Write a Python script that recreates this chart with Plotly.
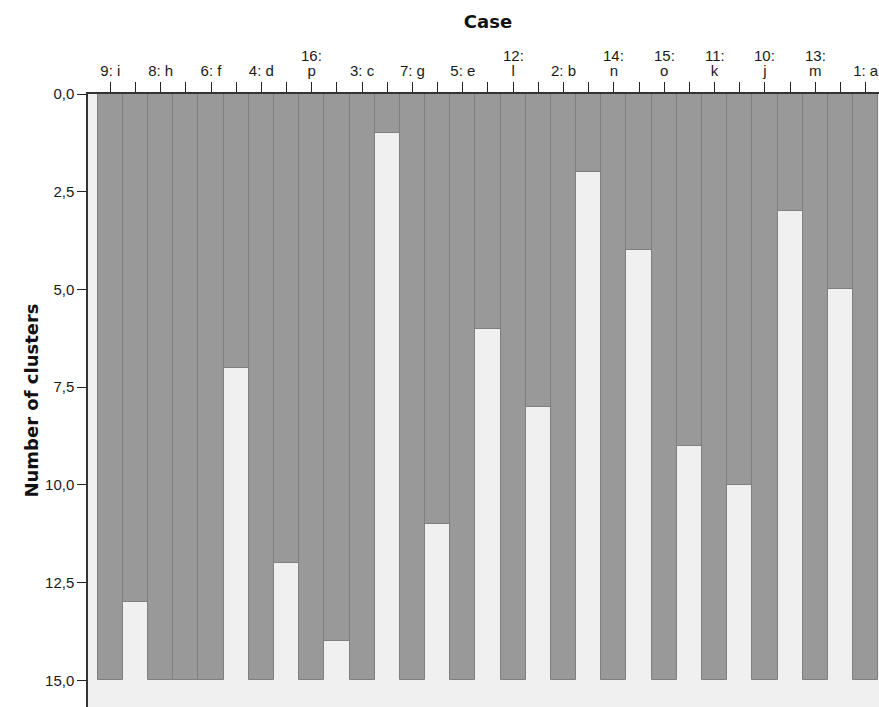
import plotly.graph_objects as go

# Cases in icicle order (bottom line of each label; two-line labels have a top line)
case_top = ["", "", "", "", "16:", "", "", "", "12:", "", "14:", "15:", "11:", "10:", "13:", ""]
case_bottom = ["9: i", "8: h", "6: f", "4: d", "p", "3: c", "7: g", "5: e",
               "l", "2: b", "n", "o", "k", "j", "m", "1: a"]
# Number of clusters at which adjacent cases are joined (gap between case i and i+1)
join_levels = [13, 15, 7, 12, 14, 1, 11, 6, 8, 2, 4, 9, 10, 3, 5]
max_clusters = 15
y_ticks = [0, 2.5, 5, 7.5, 10, 12.5, 15]
y_tick_text = ["0,0", "2,5", "5,0", "7,5", "10,0", "12,5", "15,0"]

xs, hs, tv, tt, case_pos = [], [], [], [], []
pos = 0
for i, c in enumerate(case_bottom):
    xs.append(pos); hs.append(max_clusters); tv.append(pos); tt.append(c); case_pos.append(pos)
    pos += 1
    if i < len(join_levels):
        xs.append(pos); hs.append(join_levels[i]); tv.append(pos); tt.append("")
        pos += 1

fig = go.Figure(go.Bar(
    x=xs, y=hs, base=0, width=1,
    marker=dict(color="#999999", line=dict(color="#7f7f7f", width=1)),
    hoverinfo="skip",
))

tick_font = dict(family="Liberation Sans, Arial, sans-serif", size=15, color="#1a1a1a")
title_font = dict(family="DejaVu Sans, Verdana, sans-serif", size=18, color="#111")

for p, t in zip(case_pos, case_top):
    if t:
        fig.add_annotation(x=p, y=1, xref="x", yref="paper", text=t, showarrow=False,
                           xanchor="center", yanchor="bottom", yshift=28, font=tick_font)

fig.update_layout(
    width=879, height=707,
    margin=dict(l=88, r=0, t=94, b=0),
    paper_bgcolor="white", plot_bgcolor="#f0f0f0",
    bargap=0, showlegend=False,
    title=dict(text="<b>Case</b>", x=488 / 879, xref="container", xanchor="center",
               y=0.978, yref="container", yanchor="top", font=title_font),
)
fig.update_xaxes(
    side="top", range=[-0.886, 30.53], tickvals=tv, ticktext=tt, automargin=False,
    ticks="outside", ticklen=10, tickwidth=1, tickcolor="#222",
    showline=True, linecolor="#333", linewidth=1.5, showgrid=False, zeroline=False,
    tickfont=tick_font,
)
fig.update_yaxes(
    range=[15.68, 0], tickvals=y_ticks, ticktext=y_tick_text, automargin=False,
    ticks="outside", ticklen=9, tickwidth=1, tickcolor="#222",
    showline=True, linecolor="#333", linewidth=1.5, showgrid=False, zeroline=False,
    tickfont=tick_font,
    title=dict(text="<b>Number of clusters</b>", font=title_font, standoff=2),
)
fig.write_html("out.html", config={"displayModeBar": False},
               post_script="document.body.style.margin='0px';document.body.style.overflow='hidden';")
